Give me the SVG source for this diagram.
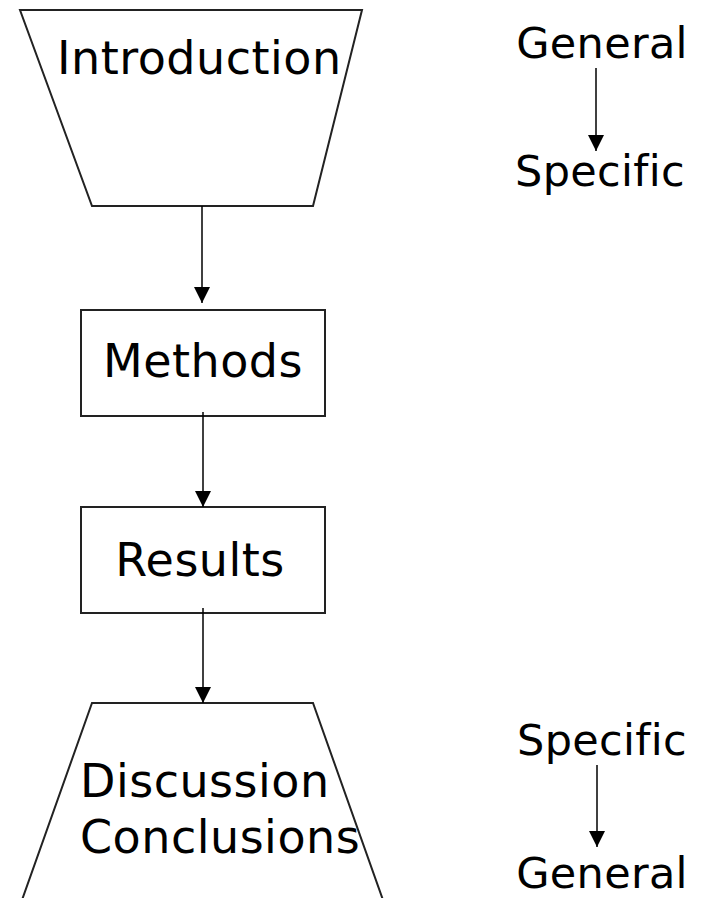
<svg xmlns="http://www.w3.org/2000/svg" width="704" height="898" viewBox="0 0 704 898">
<style>
.shape{fill:#fff;stroke:#222;stroke-width:2}
.lbl{font-family:"DejaVu Sans",sans-serif;font-size:46px;fill:#000;letter-spacing:0.5px}
.side{font-family:"DejaVu Sans",sans-serif;font-size:43px;fill:#000;text-anchor:middle;letter-spacing:0.3px}
.conn{stroke:#000;stroke-width:1.5;fill:none}
</style>
<defs>
<marker id="ah" markerUnits="userSpaceOnUse" markerWidth="16" markerHeight="16" viewBox="0 0 16 16" refX="16" refY="8" orient="auto">
<path d="M0,0 L16,8 L0,16 Z" fill="#000"/>
</marker>
</defs>
<rect width="704" height="898" fill="#fff"/>
<g id="intro">
<polygon class="shape" points="20,10 362,10 313,206 92,206"/>
<text class="lbl" x="57" y="74">Introduction</text>
</g>
<g id="methods">
<rect class="shape" x="81" y="310" width="244" height="106"/>
<text class="lbl" x="203" y="377" text-anchor="middle">Methods</text>
</g>
<g id="results">
<rect class="shape" x="81" y="507" width="244" height="106"/>
<text class="lbl" x="200" y="576" text-anchor="middle">Results</text>
</g>
<g id="discussion">
<polygon class="shape" points="92,703 313,703 383,900 22,900"/>
<text class="lbl" x="80" y="797">Discussion</text>
<text class="lbl" x="80" y="853">Conclusions</text>
</g>
<g id="general-specific">
<text class="side" x="602" y="58">General</text>
<text class="side" x="600" y="186">Specific</text>
</g>
<g id="specific-general">
<text class="side" x="602" y="755">Specific</text>
<text class="side" x="602" y="888">General</text>
</g>
<g id="connectors">
<line class="conn" x1="202" y1="206" x2="202" y2="303" marker-end="url(#ah)"/>
<line class="conn" x1="203" y1="412" x2="203" y2="507" marker-end="url(#ah)"/>
<line class="conn" x1="203" y1="608" x2="203" y2="703" marker-end="url(#ah)"/>
<line class="conn" x1="596" y1="68" x2="596" y2="151" marker-end="url(#ah)"/>
<line class="conn" x1="597" y1="765" x2="597" y2="847" marker-end="url(#ah)"/>
</g>
</svg>
